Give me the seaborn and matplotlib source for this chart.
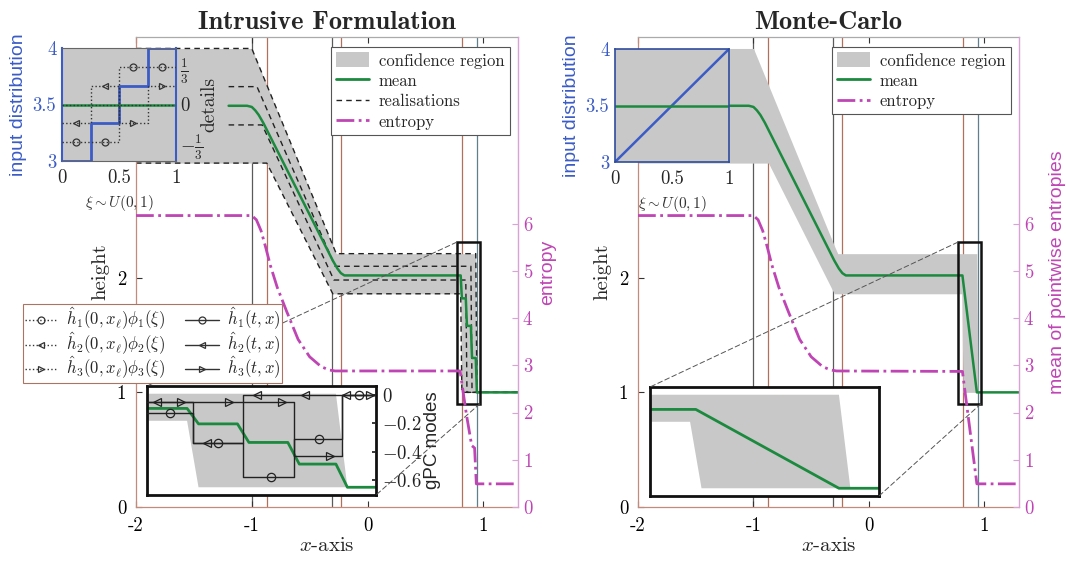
import numpy as np
import matplotlib
matplotlib.use('Agg')
import matplotlib.pyplot as plt
import seaborn as sns
from matplotlib.patches import Rectangle, Patch, ConnectionPatch
from matplotlib.lines import Line2D

sns.set_theme(style='white')
plt.rcParams['font.family'] = ['cmr10', 'DejaVu Serif']
plt.rcParams['mathtext.fontset'] = 'cm'
plt.rcParams['axes.unicode_minus'] = False
plt.rcParams['axes.formatter.use_mathtext'] = True

GREEN = '#1b8a3e'
MAGENTA = '#bf45b4'
BLUE = '#3b5cc6'
GREY = '#c8c8c8'
SPINE = '#c48b7a'
SANS = ['Liberation Sans', 'DejaVu Sans']

# ---------------- data ----------------
# confidence region (shared by both panels)
band_x = [-2.0, -1.0, -0.87, -0.30, -0.27, 0.805, 0.815, 0.935, 0.945, 1.3]
band_hi = [4.0, 4.0, 3.68, 2.28, 2.21, 2.21, 2.21, 2.21, 1.0, 1.0]
band_lo = [3.0, 3.0, 3.0, 1.86, 1.86, 1.86, 1.0, 1.0, 1.0, 1.0]

# mean height, intrusive (starts right of the "details" labels)
intr_mean_x = [-1.2, -1.04, -1.0, -0.97, -0.94, -0.90, -0.30, -0.26, -0.23, -0.20,
               0.805, 0.815, 0.849, 0.859, 0.893, 0.903, 0.935, 0.945, 1.3]
intr_mean_y = [3.5, 3.5, 3.49, 3.46, 3.42, 3.35, 2.15, 2.08, 2.04, 2.02,
               2.02, 1.82, 1.82, 1.58, 1.58, 1.30, 1.30, 1.0, 1.0]

# mean height, Monte-Carlo
mc_mean_x = [-2.0, -1.04, -1.0, -0.97, -0.94, -0.90, -0.30, -0.26, -0.23, -0.20,
             0.81, 0.935, 1.3]
mc_mean_y = [3.5, 3.5, 3.49, 3.46, 3.42, 3.35, 2.15, 2.08, 2.04, 2.02,
             2.02, 1.0, 1.0]

# realisations (intrusive panel only)
real1_x = [-2.0, -1.0, -0.27, 0.935, 0.945, 1.3]
real1_y = [4.0, 4.0, 2.21, 2.21, 1.0, 1.0]
real2_x = [-1.2, -0.955, -0.28, 0.893, 0.903, 1.3]
real2_y = [3.667, 3.667, 2.10, 2.10, 1.0, 1.0]
real3_x = [-1.2, -0.91, -0.29, 0.849, 0.859, 1.3]
real3_y = [3.333, 3.333, 1.98, 1.98, 1.0, 1.0]
real4_x = [-2.0, -0.87, -0.30, 0.805, 0.815, 1.3]
real4_y = [3.0, 3.0, 1.86, 1.86, 1.0, 1.0]

# entropy
ent_core_x = [-2.0, -1.0, -0.96, -0.92, -0.88, -0.84, -0.78, -0.7, -0.6, -0.5, -0.4, -0.33, -0.28]
ent_core_y = [6.17, 6.17, 6.08, 5.85, 5.5, 5.12, 4.65, 4.15, 3.55, 3.18, 2.97, 2.9, 2.88]
intr_ent_x = ent_core_x + [0.80, 0.84, 0.855, 0.90, 0.925, 0.94, 1.3]
intr_ent_y = ent_core_y + [2.88, 2.2, 1.95, 1.3, 1.25, 0.49, 0.49]
mc_ent_x = ent_core_x + [0.81, 0.935, 1.3]
mc_ent_y = ent_core_y + [2.87, 0.49, 0.49]

# vertical marker lines
vline_x = [-1.0, -0.87, -0.31, -0.23, 0.815, 0.945]
vline_c = ['#5a5a5a', '#b0705c', '#5a5a5a', '#b0705c', '#b0705c', '#5f7f8a']

# input distribution insets
xi_edges = [0.0, 0.25, 0.5, 0.75, 1.0]
xi_mid = [0.125, 0.375, 0.625, 0.875]
input_levels = [3.0, 3.333, 3.667, 4.0]
phi1_detail = [-1 / 3, -1 / 3, 1 / 3, 1 / 3]
phi2_detail = [-1 / 6, 1 / 6, 0.0, 0.0]
phi3_detail = [0.0, 0.0, -1 / 6, 1 / 6]
mc_xi = [0.0, 1.0]
mc_input = [3.0, 4.0]

# zoom window and gPC modes
zoom_x = (0.77, 0.97)
zoom_h = (0.90, 2.31)
mode_edges = [0.77, 0.81, 0.854, 0.898, 0.94, 0.97]
h1_modes = [-0.13, -0.34, -0.58, -0.31, 0.0]
h2_modes = [-0.05, -0.34, 0.0, 0.0, 0.0]
h3_modes = [-0.05, -0.05, -0.05, -0.43, 0.0]
h1_mark_x = [0.79, 0.832, 0.878, 0.92, 0.955]
h2_mark_x = [0.779, 0.822, 0.866, 0.908, 0.944]
h3_mark_x = [0.80, 0.842, 0.888, 0.93, 0.965]

W, H = 1066, 563
fig = plt.figure(figsize=(W / 100, H / 100), dpi=100)


def px_box(x0, y0, x1, y1):
    return [x0 / W, 1 - y1 / H, (x1 - x0) / W, (y1 - y0) / H]


def line(ax, x, y, **kw):
    sns.lineplot(x=x, y=y, ax=ax, sort=False, estimator=None, legend=False, **kw)


def main_panel(box, title, mean_x, mean_y, ent_x, ent_y, ent_label, reals, ent_pad):
    ax = fig.add_axes(px_box(*box))
    ax.fill_between(band_x, band_lo, band_hi, color=GREY, lw=0, zorder=1)
    for xv, c in zip(vline_x, vline_c):
        ax.axvline(xv, color=c, lw=0.9, zorder=0.5)
    for rx, ry in reals:
        line(ax, rx, ry, color='#222222', lw=1.0, linestyle=(0, (4, 3)), zorder=2)
    line(ax, mean_x, mean_y, color=GREEN, lw=1.8, zorder=3)
    ax.add_patch(Rectangle((zoom_x[0], zoom_h[0]), zoom_x[1] - zoom_x[0], zoom_h[1] - zoom_h[0],
                           fill=False, ec='#111111', lw=1.8, zorder=6))
    ax.set_xlim(-2, 1.3)
    ax.set_ylim(0, 4.1)
    ax.set_xticks([-2, -1, 0, 1], ['-2', '-1', '0', '1'])
    ax.set_yticks([0, 1, 2], ['0', '1', '2'])
    ax.tick_params(direction='in', top=True, bottom=True, left=True, length=4, width=0.8,
                   labelsize=13.5, colors='#333333', labelcolor='black', pad=7)
    ax.set_xlabel('$x$-axis', fontsize=15, labelpad=2)
    ax.set_ylabel('height', fontsize=15, labelpad=5)
    ax.set_title(title, fontsize=19, fontfamily=['cmb10', 'DejaVu Serif'], fontweight='bold', pad=6)
    ax.spines['left'].set_color(SPINE)
    ax.spines['bottom'].set_color(SPINE)
    ax.spines['top'].set_color('#aaaaaa')
    ax.spines['right'].set_visible(False)
    for s in ax.spines.values():
        s.set_linewidth(0.9)

    ae = ax.twinx()
    line(ae, ent_x, ent_y, color=MAGENTA, lw=2.0, linestyle='-.', zorder=4)
    ae.set_ylim(0, 9.95)
    ae.set_yticks(range(7), [str(v) for v in range(7)])
    ae.tick_params(direction='in', length=4, width=0.8, labelsize=13.5,
                   colors='#d9a3d6', labelcolor=MAGENTA)
    ae.set_ylabel(ent_label, fontsize=14, color=MAGENTA, fontfamily=SANS, labelpad=ent_pad)
    for k in ['left', 'top', 'bottom']:
        ae.spines[k].set_visible(False)
    ae.spines['right'].set_color('#d9a3d6')
    ae.spines['right'].set_linewidth(1.0)
    return ax, ae


def legend_main(ae, with_real):
    hs = [Patch(facecolor=GREY, edgecolor='none', label='confidence region'),
          Line2D([], [], color=GREEN, lw=2, label='mean')]
    if with_real:
        hs.append(Line2D([], [], color='#222222', lw=1, linestyle=(0, (4, 3)), label='realisations'))
    hs.append(Line2D([], [], color=MAGENTA, lw=2, linestyle='-.', label='entropy'))
    lg = ae.legend(handles=hs, loc='upper right', bbox_to_anchor=(0.978, 0.978), borderaxespad=0,
                   fontsize=12, fancybox=False, framealpha=1, edgecolor='#555555',
                   handlelength=2.0, handleheight=1.0, labelspacing=0.25, borderpad=0.3,
                   handletextpad=0.6)
    lg.get_frame().set_linewidth(0.8)
    lg.set_zorder(10)


def input_inset(box, mc):
    ai = fig.add_axes(px_box(*box))
    ai.set_facecolor(GREY)
    if mc:
        line(ai, mc_xi, mc_input, color=BLUE, lw=1.8)
    else:
        ai.step(xi_edges, input_levels + [input_levels[-1]], where='post', color=BLUE, lw=2)
    line(ai, [0.0, 1.0], [3.5, 3.5], color=GREEN, lw=1.8)
    ai.set_xlim(0, 1)
    ai.set_ylim(3, 4)
    ai.set_xticks([0, 0.5, 1], ['0', '0.5', '1'])
    ai.set_yticks([3, 3.5, 4], ['3', '3.5', '4'])
    ai.tick_params(length=0, labelsize=13.5, pad=6)
    ai.tick_params(axis='y', labelcolor=BLUE, pad=4)
    ai.set_xlabel(r'$\xi \sim U(0,1)$', fontsize=11, color='#333333', labelpad=4)
    ai.set_ylabel('input distribution', fontsize=14, color=BLUE, fontfamily=SANS, labelpad=4)
    for k, s in ai.spines.items():
        s.set_color('#666666')
        s.set_linewidth(0.8)
    ai.spines['left'].set_color(BLUE)
    ai.spines['left'].set_linewidth(1.5)
    ai.spines['right'].set_color(BLUE)
    ai.spines['right'].set_linewidth(1.5)
    if mc:
        for s in ai.spines.values():
            s.set_color('#2f4d9e')
            s.set_linewidth(1.2)
        return ai
    ad = ai.twinx()
    ad.set_ylim(-0.5, 0.5)
    for vals, mk in [(phi1_detail, 'o'), (phi2_detail, '<'), (phi3_detail, '>')]:
        ad.step(xi_edges, vals + [vals[-1]], where='post', color='#333333', lw=1.0, linestyle=':')
        mx = [m for m, v in zip(xi_mid, vals) if v != 0]
        my = [v for v in vals if v != 0]
        ad.plot(mx, my, linestyle='none', marker=mk, ms=5, mfc='none', mec='#333333', mew=0.9)
    ad.set_yticks([-1 / 3, 0, 1 / 3], [r'$-\frac{1}{3}$', '0', r'$\frac{1}{3}$'])
    ad.tick_params(length=0, labelsize=13.5, pad=3)
    ad.set_ylabel('details', fontsize=14, labelpad=-2)
    for s in ad.spines.values():
        s.set_visible(False)
    return ai


def gpc_inset(box, mean_x, mean_y, with_modes):
    g = fig.add_axes(px_box(*box))
    g.set_facecolor('white')
    g.fill_between(band_x, band_lo, band_hi, color=GREY, lw=0)
    line(g, mean_x, mean_y, color=GREEN, lw=2.0)
    g.set_xlim(*zoom_x)
    g.set_ylim(*zoom_h)
    g.set_xticks([])
    g.set_yticks([])
    g.set_xlabel('')
    g.set_ylabel('')
    for s in g.spines.values():
        s.set_color('#111111')
        s.set_linewidth(2.0)
    if with_modes:
        gm = g.twinx()
        edges = np.array(mode_edges)
        for vals, mxs, mk in [(h1_modes, h1_mark_x, 'o'), (h2_modes, h2_mark_x, '<'),
                              (h3_modes, h3_mark_x, '>')]:
            gm.step(mode_edges, vals + [vals[-1]], where='post', color='#222222', lw=1.0)
            idx = np.searchsorted(edges, mxs, side='right') - 1
            gm.plot(mxs, np.array(vals)[idx], linestyle='none', marker=mk, ms=6,
                    mfc='none', mec='#222222', mew=0.9)
        gm.set_ylim(-0.706, 0.064)
        gm.set_yticks([0, -0.2, -0.4, -0.6], ['$0$', '$-0.2$', '$-0.4$', '$-0.6$'])
        gm.tick_params(direction='in', length=3, labelsize=13.5, pad=4, colors='#222222')
        gm.set_ylabel('gPC modes', fontsize=13.5, fontfamily=SANS, labelpad=2)
        for s in gm.spines.values():
            s.set_visible(False)
    return g


def connect(ax, g):
    for a, b in [((zoom_x[0], zoom_h[1]), (0, 1)), ((zoom_x[1], zoom_h[0]), (1, 0))]:
        con = ConnectionPatch(xyA=a, coordsA=ax.transData, xyB=b, coordsB=g.transAxes,
                              color='#555555', lw=0.7, linestyle=(0, (5, 3)))
        con.set_zorder(2)
        fig.add_artist(con)


# ---------------- left: intrusive ----------------
reals = [(real1_x, real1_y), (real2_x, real2_y), (real3_x, real3_y), (real4_x, real4_y)]
axL, aeL = main_panel((136, 37, 518, 507), 'Intrusive Formulation', intr_mean_x, intr_mean_y,
                      intr_ent_x, intr_ent_y, 'entropy', reals, 5)
legend_main(aeL, True)
input_inset((62, 48, 176, 161), False)
gL = gpc_inset((147, 386, 376, 495), intr_mean_x, intr_mean_y, True)
connect(axL, gL)

# ---------------- right: Monte-Carlo ----------------
axR, aeR = main_panel((638, 37, 1019, 507), 'Monte-Carlo', mc_mean_x, mc_mean_y,
                      mc_ent_x, mc_ent_y, 'mean of pointwise entropies', [], 11)
legend_main(aeR, False)
input_inset((615, 49, 729, 162), True)
gR = gpc_inset((650, 387, 879, 496), mc_mean_x, mc_mean_y, False)
connect(axR, gR)

# gPC legend
mk_style = dict(ms=5, mfc='none', mec='#333333', mew=0.9, color='#333333')
gh = [Line2D([], [], lw=1.0, linestyle=':', marker='o', **mk_style,
             label=r'$\hat{h}_1(0,x_\ell)\phi_1(\xi)$'),
      Line2D([], [], lw=1.0, linestyle=':', marker='<', **mk_style,
             label=r'$\hat{h}_2(0,x_\ell)\phi_2(\xi)$'),
      Line2D([], [], lw=1.0, linestyle=':', marker='>', **mk_style,
             label=r'$\hat{h}_3(0,x_\ell)\phi_3(\xi)$'),
      Line2D([], [], lw=1.0, linestyle='-', marker='o', **mk_style, label=r'$\hat{h}_1(t,x)$'),
      Line2D([], [], lw=1.0, linestyle='-', marker='<', **mk_style, label=r'$\hat{h}_2(t,x)$'),
      Line2D([], [], lw=1.0, linestyle='-', marker='>', **mk_style, label=r'$\hat{h}_3(t,x)$')]
glg = fig.legend(handles=gh, ncol=2, loc='upper left', bbox_to_anchor=(23 / W, 1 - 304 / H),
                 borderaxespad=0, fontsize=12, fancybox=False, framealpha=1, edgecolor='#a87565',
                 handlelength=2.0, handleheight=0.5, labelspacing=-0.12, borderpad=0.1,
                 columnspacing=1.2, handletextpad=0.5)
glg.get_frame().set_linewidth(0.8)
glg.set_zorder(10)

fig.savefig('out.png', dpi=100)
